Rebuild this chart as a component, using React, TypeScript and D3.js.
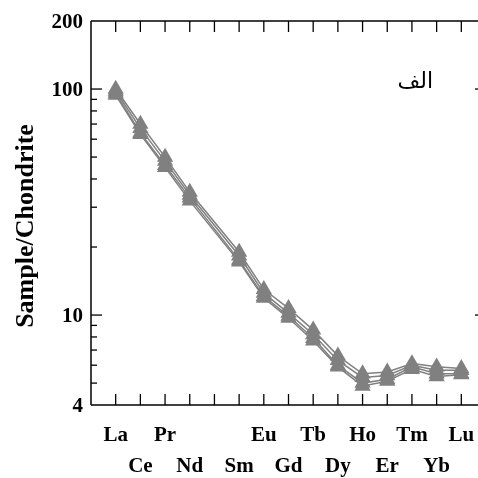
import React, { useEffect, useRef } from 'react'
import * as d3 from 'd3'

// REE slots (Pm is left empty on the axis)
const elements = ['La', 'Ce', 'Pr', 'Nd', 'Pm', 'Sm', 'Eu', 'Gd', 'Tb', 'Dy', 'Ho', 'Er', 'Tm', 'Yb', 'Lu']
const topRowLabels = ['La', 'Pr', 'Eu', 'Tb', 'Ho', 'Tm', 'Lu']
const bottomRowLabels = ['Ce', 'Nd', 'Sm', 'Gd', 'Dy', 'Er', 'Yb']

// chondrite-normalised values, in order La..Lu without Pm
const sample1 = [100, 70, 50, 35, 19, 13, 10.7, 8.6, 6.6, 5.5, 5.6, 6.1, 5.9, 5.8]
const sample2 = [98, 67, 48, 34, 18.3, 12.5, 10.2, 8.2, 6.3, 5.3, 5.4, 6.0, 5.7, 5.7]
const sample3 = [96, 64, 46, 33, 17.5, 12.1, 9.9, 7.9, 6.0, 5.0, 5.2, 5.9, 5.5, 5.5]
const sample4 = [94, 63, 45, 32, 17.2, 11.9, 9.7, 7.7, 5.9, 4.85, 5.1, 5.75, 5.35, 5.45]
const plotted = ['La', 'Ce', 'Pr', 'Nd', 'Sm', 'Eu', 'Gd', 'Tb', 'Dy', 'Ho', 'Er', 'Tm', 'Yb', 'Lu']

const yTickLabels = [4, 10, 100, 200]
const yMajor = [10, 100]
const yMinor = [5, 6, 7, 8, 9, 20, 30, 40, 50, 60, 70, 80, 90]

const W = 478
const H = 478

export default function App() {
  const ref = useRef<SVGSVGElement>(null)

  useEffect(() => {
    const svg = d3.select(ref.current)
    svg.selectAll('*').remove()

    const left = 91, right = 486, top = 21, bottom = 405

    const x = d3.scalePoint<string>()
      .domain(elements)
      .range([left, right])
      .padding(1)

    const y = d3.scaleLog()
      .domain([4, 200])
      .range([bottom, top])

    const font = '"Liberation Serif", "Times New Roman", serif'
    const grey = '#808080'

    // frame (right side falls just outside the picture)
    const fr = svg.append('g').attr('stroke', '#000').attr('stroke-width', 1.5)
    fr.append('line').attr('x1', left).attr('x2', left).attr('y1', top).attr('y2', bottom)
    fr.append('line').attr('x1', left).attr('x2', right).attr('y1', top).attr('y2', top)
    fr.append('line').attr('x1', left).attr('x2', right).attr('y1', bottom).attr('y2', bottom)
    fr.append('line').attr('x1', right).attr('x2', right).attr('y1', top).attr('y2', bottom)

    // category ticks, bottom and top, pointing inward
    const tk = svg.append('g').attr('stroke', '#000').attr('stroke-width', 1.3)
    elements.forEach(e => {
      tk.append('line').attr('x1', x(e)).attr('x2', x(e)).attr('y1', bottom).attr('y2', bottom - 11)
      tk.append('line').attr('x1', x(e)).attr('x2', x(e)).attr('y1', top).attr('y2', top + 11)
    })

    // y ticks on both sides, inward
    yMajor.forEach(v => {
      tk.append('line').attr('x1', left).attr('x2', left + 11).attr('y1', y(v)).attr('y2', y(v))
      tk.append('line').attr('x1', right).attr('x2', right - 11).attr('y1', y(v)).attr('y2', y(v))
    })
    yMinor.forEach(v => {
      tk.append('line').attr('x1', left).attr('x2', left + 6).attr('y1', y(v)).attr('y2', y(v))
      tk.append('line').attr('x1', right).attr('x2', right - 6).attr('y1', y(v)).attr('y2', y(v))
    })

    // y tick labels
    svg.append('g')
      .selectAll('text')
      .data(yTickLabels)
      .join('text')
      .attr('x', left - 8)
      .attr('y', d => y(d))
      .attr('dy', '0.35em')
      .attr('text-anchor', 'end')
      .attr('font-family', font)
      .attr('font-weight', 'bold')
      .attr('font-size', 21)
      .text(d => d)

    // x labels, two staggered rows
    const xl = svg.append('g')
      .attr('font-family', font)
      .attr('font-weight', 'bold')
      .attr('font-size', 21)
      .attr('text-anchor', 'middle')
    topRowLabels.forEach(l => xl.append('text').attr('x', x(l)).attr('y', 441).text(l))
    bottomRowLabels.forEach(l => xl.append('text').attr('x', x(l)).attr('y', 472).text(l))

    // y title
    svg.append('text')
      .attr('transform', `translate(33,${(top + bottom) / 2 + 13}) rotate(-90)`)
      .attr('text-anchor', 'middle')
      .attr('font-family', font)
      .attr('font-weight', 'bold')
      .attr('font-size', 26)
      .text('Sample/Chondrite')

    // panel label
    svg.append('text')
      .attr('x', 433)
      .attr('y', 88)
      .attr('text-anchor', 'end')
      .attr('font-family', '"DejaVu Sans", "Noto Sans", sans-serif')
      .attr('font-size', 22)
      .text('الف')

    const series = [sample1, sample2, sample3, sample4]
    const line = d3.line<number>()
      .x((d, i) => x(plotted[i]) as number)
      .y(d => y(d))

    const g = svg.append('g')
    series.forEach(s => {
      g.append('path')
        .attr('d', line(s))
        .attr('fill', 'none')
        .attr('stroke', grey)
        .attr('stroke-width', 1.5)
    })
    const tri = d3.symbol().type(d3.symbolTriangle).size(115)
    series.forEach(s => {
      g.append('g')
        .selectAll('path')
        .data(s)
        .join('path')
        .attr('transform', (d, i) => `translate(${x(plotted[i])},${y(d)})`)
        .attr('d', tri)
        .attr('fill', grey)
    })
  }, [])

  return (
    <div style={{ position: 'fixed', left: 0, top: 0, width: W, height: H, overflow: 'hidden' }}>
      <svg ref={ref} width={W} height={H} style={{ display: 'block' }} />
    </div>
  )
}
